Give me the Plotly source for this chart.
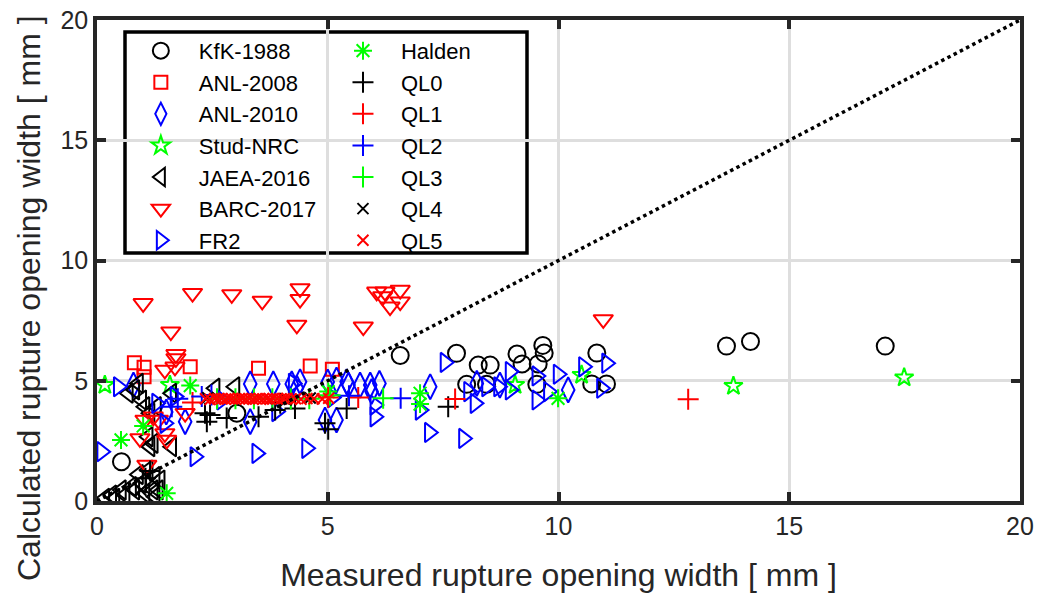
import plotly.graph_objects as go

# ---------------- data ----------------
KfK_x = [0.53, 3.03, 6.57, 7.79, 8.26, 8.52, 9.10, 9.21, 9.56, 9.66, 9.69, 8.01, 8.44, 9.53, 10.83, 10.72, 11.04, 13.64, 14.16, 17.08]
KfK_y = [1.63, 3.65, 6.05, 6.14, 5.65, 5.65, 6.11, 5.70, 5.70, 6.47, 6.15, 4.85, 4.85, 4.85, 6.15, 4.87, 4.87, 6.44, 6.63, 6.44]

ANL2008_x = [0.81, 1.02, 1.02, 2.02, 3.50, 4.62, 5.10]
ANL2008_y = [5.75, 5.56, 5.17, 5.58, 5.52, 5.61, 5.48]

ANL2010_x = [0.79, 1.50, 1.91, 3.32, 3.82, 4.22, 4.40, 4.33, 5.00, 5.19, 5.45, 5.70, 5.92, 6.12, 5.95, 7.22, 8.23, 8.73, 10.21, 3.32, 4.94, 5.19, 5.41]
ANL2010_y = [4.82, 3.70, 3.30, 4.87, 4.87, 4.87, 4.96, 4.70, 4.95, 5.03, 4.82, 4.82, 4.82, 4.89, 4.55, 4.75, 4.89, 4.82, 4.62, 3.30, 3.37, 3.37, 4.96]

StudNRC_x = [0.17, 1.58, 9.06, 10.50, 13.79, 17.49]
StudNRC_y = [4.82, 4.82, 4.82, 5.24, 4.78, 5.13]

JAEA_x = [0.68, 0.82, 0.90, 0.97, 1.04, 1.15, 1.62, 1.29, 2.56, 2.99, 1.11, 1.22, 1.62, 1.15, 1.11, 1.26, 1.37,
          0.97, 0.75, 0.53, 0.32, 0.17, 1.04, 1.22, 1.33, 0.82, 0.61, 0.39, 1.26, 0.90]
JAEA_y = [4.48, 4.62, 4.89, 4.20, 3.92, 3.65, 4.48, 3.92, 4.69, 4.75, 2.67, 2.40, 2.26, 2.26, 1.29, 1.01, 0.87,
          0.74, 0.60, 0.46, 0.25, 0.11, 0.32, 0.46, 0.46, 0.46, 0.25, 0.11, 0.18, 1.10]

BARC_x = [1.00, 2.07, 2.92, 3.58, 4.40, 4.40, 4.33, 1.60, 1.71, 1.71, 1.47, 1.69, 6.06, 6.24, 6.57, 6.35, 6.57,
          6.19, 5.77, 10.97, 1.04, 1.33, 1.51, 0.93, 1.08, 1.91, 1.47, 1.22]
BARC_y = [8.22, 8.64, 8.59, 8.32, 8.84, 8.39, 7.32, 7.04, 6.10, 5.93, 5.45, 5.58, 8.70, 8.70, 8.77, 8.08, 8.29,
          8.50, 7.25, 7.55, 3.37, 3.37, 2.54, 2.60, 1.50, 3.65, 2.81, 3.50]

FR2_x = [0.10, 0.46, 2.12, 3.46, 4.54, 1.29, 1.47, 1.69, 2.70, 4.25, 3.89, 7.54, 6.02, 6.02, 7.00, 7.20, 7.94,
         8.19, 8.05, 8.44, 8.70, 8.95, 8.95, 9.53, 9.53, 9.99, 9.78, 10.54, 11.04, 10.93, 5.10]
FR2_y = [2.05, 4.75, 1.84, 1.98, 2.19, 4.06, 3.23, 4.34, 4.20, 4.89, 3.72, 5.76, 3.99, 3.50, 3.78, 2.85, 2.60,
         4.06, 4.55, 4.75, 4.75, 5.38, 4.62, 5.20, 4.20, 5.27, 4.55, 5.58, 5.73, 4.69, 4.30]

Halden_x = [0.52, 1.00, 1.51, 2.02, 5.01, 7.00, 7.00, 9.99]
Halden_y = [2.54, 3.12, 0.32, 4.80, 4.55, 4.48, 4.03, 4.27]

QL0_x = [2.34, 2.38, 2.45, 2.81, 3.50, 3.86, 3.97, 4.29, 4.94, 5.01, 5.41, 7.61, 1.05, 1.15]
QL0_y = [3.65, 3.30, 3.58, 3.45, 3.50, 3.78, 4.06, 3.85, 3.23, 2.98, 3.85, 3.92, 0.95, 1.25]

QL1_x = [2.07, 5.01, 5.66, 7.76, 12.81]
QL1_y = [4.10, 4.30, 4.30, 4.24, 4.23]

QL2_x = [1.62, 1.75, 2.27, 2.48, 5.46, 6.58]
QL2_y = [3.92, 4.25, 4.34, 4.41, 4.38, 4.27]

QL3_x = [6.20, 2.60, 3.00, 3.40, 3.80, 4.20, 4.60, 5.05]
QL3_y = [4.27, 4.25, 4.25, 4.25, 4.25, 4.25, 4.25, 4.40]

QL4_x = [2.40, 4.10, 4.62, 0.95, 1.20]
QL4_y = [4.30, 4.20, 4.28, 0.45, 0.85]

QL5_x = [2.35, 2.45, 2.55, 2.62, 2.70, 2.78, 2.85, 2.92, 3.00, 3.08, 3.15, 3.22, 3.30, 3.38, 3.45, 3.52,
         3.60, 3.68, 3.75, 3.82, 3.90, 3.98, 4.05, 4.12, 4.20, 4.30, 4.42, 4.55, 4.70, 4.88, 5.02]
QL5_y = [4.25, 4.22, 4.26, 4.24, 4.25, 4.23, 4.26, 4.25, 4.24, 4.25, 4.26, 4.24, 4.25, 4.23, 4.25, 4.26,
         4.24, 4.25, 4.23, 4.26, 4.25, 4.24, 4.25, 4.26, 4.24, 4.25, 4.23, 4.26, 4.25, 4.24, 4.27]

ref_x = [0, 20]
ref_y = [0, 20]

# ---------------- figure ----------------
FONT = "Liberation Sans, Arial, sans-serif"
fig = go.Figure()

def add(x, y, name, symbol, color, size, legend, lw=2):
    fig.add_trace(go.Scatter(
        x=x, y=y, mode="markers", name=name, legend=legend,
        marker=dict(symbol=symbol, size=size, color=color,
                    line=dict(color=color, width=lw)),
    ))

add(KfK_x, KfK_y, "KfK-1988", "circle-open", "#000000", 17, "legend")
add(ANL2008_x, ANL2008_y, "ANL-2008", "square-open", "#ff0000", 13, "legend")
add(ANL2010_x, ANL2010_y, "ANL-2010", "diamond-tall-open", "#0000ff", 18, "legend")
add(StudNRC_x, StudNRC_y, "Stud-NRC", "star-open", "#00ff00", 14, "legend")
add(JAEA_x, JAEA_y, "JAEA-2016", "triangle-left-open", "#000000", 17, "legend")
add(BARC_x, BARC_y, "BARC-2017", "triangle-down-open", "#ff0000", 17, "legend")
add(FR2_x, FR2_y, "FR2", "triangle-right-open", "#0000ff", 17, "legend")
add(Halden_x, Halden_y, "Halden", "asterisk-open", "#00ff00", 15, "legend2")
add(QL0_x, QL0_y, "QL0", "cross-thin-open", "#000000", 15, "legend2")
add(QL1_x, QL1_y, "QL1", "cross-thin-open", "#ff0000", 15, "legend2")
add(QL2_x, QL2_y, "QL2", "cross-thin-open", "#0000ff", 15, "legend2")
add(QL3_x, QL3_y, "QL3", "cross-thin-open", "#00ff00", 15, "legend2")
add(QL4_x, QL4_y, "QL4", "x-thin-open", "#000000", 11, "legend2")
add(QL5_x, QL5_y, "QL5", "x-thin-open", "#ff0000", 11, "legend2")

fig.add_trace(go.Scatter(x=ref_x, y=ref_y, mode="lines", showlegend=False,
                         line=dict(color="#000000", width=3.5, dash="dot")))

axis_common = dict(
    range=[0, 20], tickvals=[0, 5, 10, 15, 20],
    showgrid=True, gridcolor="#dedede", gridwidth=3,
    showline=True, linecolor="#262626", linewidth=3.5, mirror="ticks",
    ticks="inside", ticklen=9, tickwidth=3.5, tickcolor="#262626",
    zeroline=False, automargin=False,
    tickfont=dict(family=FONT, size=25, color="#262626"),
)

LEG_FONT = dict(family=FONT, size=22, color="#000000")

fig.update_layout(
    width=1041, height=594,
    margin=dict(l=97, r=21, t=20, b=93),
    plot_bgcolor="white", paper_bgcolor="white",
    xaxis=dict(**axis_common,
               title=dict(text="Measured rupture opening width [ mm ]",
                          font=dict(family=FONT, size=32, color="#262626"), standoff=26)),
    yaxis=dict(**axis_common),
    legend=dict(x=0.028, y=0.9795, xanchor="left", yanchor="top",
                bgcolor="rgba(0,0,0,0)", borderwidth=0, itemwidth=66,
                font=LEG_FONT, tracegroupgap=0, itemsizing="trace"),
    legend2=dict(x=0.247, y=0.9795, xanchor="left", yanchor="top",
                 bgcolor="rgba(0,0,0,0)", borderwidth=0, itemwidth=66,
                 font=LEG_FONT, tracegroupgap=0, itemsizing="trace"),
    shapes=[dict(type="rect", xref="paper", yref="paper",
                 x0=(125 - 97) / 923, x1=(527 - 97) / 923,
                 y0=(501 - 253) / 481, y1=(501 - 32) / 481,
                 line=dict(color="#000000", width=3.5), fillcolor="white", layer="below")],
    annotations=[dict(text="Calculated rupture opening width [ mm ]",
                      xref="paper", yref="paper", x=0, y=(501 - 298) / 481,
                      xanchor="center", yanchor="middle", xshift=-68,
                      textangle=-90, showarrow=False,
                      font=dict(family=FONT, size=32, color="#262626"))],
)

fig.write_html("out.html")
